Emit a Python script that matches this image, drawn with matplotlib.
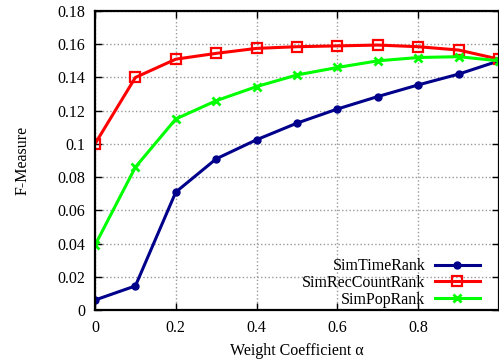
import matplotlib
matplotlib.use("Agg")
import matplotlib.pyplot as plt

# data
alpha = [0.0, 0.1, 0.2, 0.3, 0.4, 0.5, 0.6, 0.7, 0.8, 0.9, 1.0]
sim_time = [0.006, 0.0145, 0.071, 0.091, 0.1025, 0.1125, 0.121, 0.1285, 0.1355, 0.142, 0.150]
sim_rec = [0.100, 0.140, 0.151, 0.1545, 0.1575, 0.1585, 0.159, 0.1595, 0.1585, 0.1565, 0.151]
sim_pop = [0.039, 0.086, 0.115, 0.126, 0.1345, 0.1415, 0.146, 0.150, 0.152, 0.1525, 0.150]

plt.rcParams['font.family'] = ['Liberation Serif', 'DejaVu Serif']
plt.rcParams['font.size'] = 11.5

fig = plt.figure(figsize=(4.99, 3.62), dpi=100)
ax = fig.add_axes([95 / 499, 52 / 362, 404 / 499, 299 / 362])

ax.plot(alpha, sim_time, color='#00008b', lw=2.2, marker='o', ms=5, label='SimTimeRank')
ax.plot(alpha, sim_rec, color='#ff0000', lw=2.2, marker='s', ms=6.5, mfc='none', mew=1.6,
        label='SimRecCountRank')
ax.plot(alpha, sim_pop, color='#00ff00', lw=2.2, marker='x', ms=6, mew=2, label='SimPopRank')

ax.set_xlim(0, 1.0)
ax.set_ylim(0, 0.18)
ax.set_xticks([0, 0.2, 0.4, 0.6, 0.8])
ax.set_xticklabels(['0', '0.2', '0.4', '0.6', '0.8'])
ax.set_yticks([0, 0.02, 0.04, 0.06, 0.08, 0.1, 0.12, 0.14, 0.16, 0.18])
ax.set_yticklabels(['0', '0.02', '0.04', '0.06', '0.08', '0.1', '0.12', '0.14', '0.16', '0.18'])
ax.tick_params(direction='in', top=True, right=True, length=5, width=1, pad=7)
ax.grid(True, color='#999999', ls=':', lw=1)
for s in ax.spines.values():
    s.set_linewidth(1.6)

ax.set_xlabel('Weight Coefficient α', labelpad=5)
ax.set_ylabel('F-Measure', labelpad=19)

ax.legend(loc='lower right', bbox_to_anchor=(0.98, -0.03), frameon=False, markerfirst=False,
          handlelength=2.8, handletextpad=0.6, labelspacing=0.05, borderaxespad=0.3, fontsize=11.5)

fig.savefig('out.png', dpi=100)
